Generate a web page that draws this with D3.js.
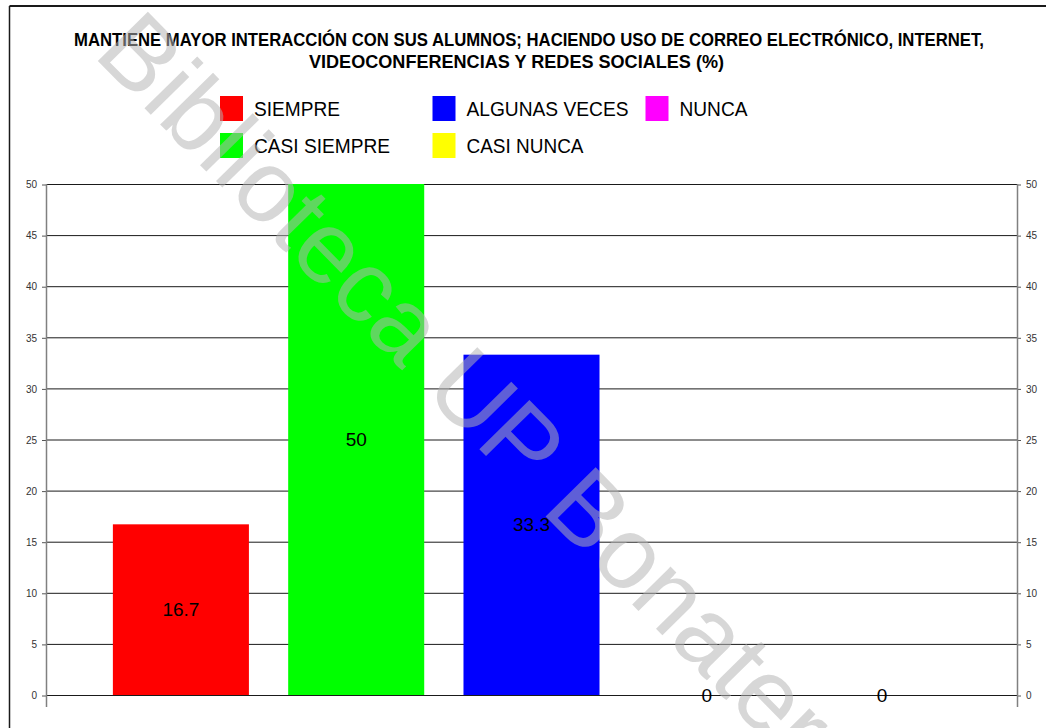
<!DOCTYPE html>
<html>
<head>
<meta charset="utf-8">
<script src="https://cdn.jsdelivr.net/npm/d3@7"></script>
<style>
  html, body { margin: 0; padding: 0; background: #fff; }
  svg { display: block; }
  text { font-family: "Liberation Sans", Arial, sans-serif; }
</style>
</head>
<body>
<div id="chart"></div>
<script>
// Response categories, their percentages and bar colours
const categories = ["SIEMPRE", "CASI SIEMPRE", "ALGUNAS VECES", "CASI NUNCA", "NUNCA"];
const values = [16.7, 50, 33.3, 0, 0];
const colors = ["#ff0000", "#00ff00", "#0000ff", "#ffff00", "#ff00ff"];
const yTicks = [0, 5, 10, 15, 20, 25, 30, 35, 40, 45, 50];
const titleLines = [
  "MANTIENE MAYOR INTERACCIÓN CON SUS ALUMNOS; HACIENDO USO DE CORREO ELECTRÓNICO, INTERNET,",
  "VIDEOCONFERENCIAS Y REDES SOCIALES (%)"
];
// Legend entries laid out in columns and rows
const legendItems = [
  { name: "SIEMPRE", color: "#ff0000", col: 0, row: 0, w: 86 },
  { name: "CASI SIEMPRE", color: "#00ff00", col: 0, row: 1, w: 136 },
  { name: "ALGUNAS VECES", color: "#0000ff", col: 1, row: 0, w: 162 },
  { name: "CASI NUNCA", color: "#ffff00", col: 1, row: 1, w: 117 },
  { name: "NUNCA", color: "#ff00ff", col: 2, row: 0, w: 68 }
];
const watermark = "Biblioteca UP Bonaterra";

const W = 1046, H = 728;
const plot = { left: 46, right: 1017, top: 184, bottom: 695 };

const svg = d3.select("#chart").append("svg")
  .attr("width", W).attr("height", H);

// Outer frame (top and left edges)
svg.append("line").attr("x1", 9.5).attr("x2", W).attr("y1", 6).attr("y2", 6)
  .attr("stroke", "#1a1a1a").attr("stroke-width", 2);
svg.append("line").attr("x1", 9.5).attr("x2", 9.5).attr("y1", 6).attr("y2", H)
  .attr("stroke", "#1a1a1a").attr("stroke-width", 1.5);

// Title
const titleX = [[74, 910], [309, 415]];
const titleY = [46, 68];
titleLines.forEach((t, i) => {
  svg.append("text")
    .attr("x", titleX[i][0]).attr("y", titleY[i])
    .attr("textLength", titleX[i][1]).attr("lengthAdjust", "spacingAndGlyphs")
    .attr("font-size", 18).attr("font-weight", "bold").attr("fill", "#000")
    .text(t);
});

// Legend
const legCols = [220, 432.5, 645.5];
const legRows = [96, 133];
const leg = svg.append("g");
legendItems.forEach(d => {
  leg.append("rect")
    .attr("x", legCols[d.col]).attr("y", legRows[d.row])
    .attr("width", 23).attr("height", 25).attr("fill", d.color);
  leg.append("text")
    .attr("x", legCols[d.col] + 34).attr("y", legRows[d.row] + 20)
    .attr("font-size", 20).attr("fill", "#000")
    .attr("textLength", d.w).attr("lengthAdjust", "spacingAndGlyphs")
    .text(d.name);
});

// Scales
const y = d3.scaleLinear().domain([0, 50]).range([plot.bottom, plot.top]);
const x = d3.scaleBand().domain(categories)
  .range([plot.left, plot.right]).paddingInner(0.224).paddingOuter(0.3815);

// Horizontal gridlines
svg.append("g").selectAll("line").data(yTicks.slice(1)).join("line")
  .attr("x1", plot.left).attr("x2", plot.right)
  .attr("y1", d => y(d) + 0.5).attr("y2", d => y(d) + 0.5)
  .attr("stroke", "#1a1a1a").attr("stroke-width", 1);

// Bars
svg.append("g").selectAll("rect").data(values).join("rect")
  .attr("x", (d, i) => x(categories[i]))
  .attr("width", x.bandwidth())
  .attr("y", d => y(d))
  .attr("height", d => y(0) - y(d))
  .attr("fill", (d, i) => colors[i]);

// Baseline
svg.append("line").attr("x1", plot.left).attr("x2", plot.right)
  .attr("y1", y(0) + 0.5).attr("y2", y(0) + 0.5)
  .attr("stroke", "#1a1a1a").attr("stroke-width", 1.2);

// Left and right value axes
function styleAxis(g) {
  g.select(".domain").remove();
  g.selectAll(".tick line").attr("stroke", "#555");
  g.selectAll(".tick text").attr("fill", "#333").attr("font-size", 10)
    .attr("font-family", "Liberation Sans, Arial, sans-serif");
}
svg.append("g").attr("transform", `translate(${plot.left},0.5)`)
  .call(d3.axisLeft(y).tickValues(yTicks).tickSize(4).tickPadding(5))
  .call(styleAxis);
svg.append("g").attr("transform", `translate(${plot.right},0.5)`)
  .call(d3.axisRight(y).tickValues(yTicks).tickSize(4).tickPadding(5))
  .call(styleAxis);
[plot.left, plot.right].forEach(px => {
  svg.append("line").attr("x1", px + 0.5).attr("x2", px + 0.5)
    .attr("y1", plot.top).attr("y2", plot.bottom + 12)
    .attr("stroke", "#808080").attr("stroke-width", 1.5);
});

// Value labels, centred in each bar
svg.append("g").selectAll("text").data(values).join("text")
  .attr("x", (d, i) => x(categories[i]) + x.bandwidth() / 2)
  .attr("y", d => (y(d) + y(0)) / 2)
  .attr("text-anchor", "middle").attr("dominant-baseline", "central")
  .attr("font-size", 19).attr("fill", "#000")
  .text(d => d3.format("~g")(d));

// Watermark
svg.append("text")
  .attr("transform", "translate(92,55) rotate(45.5)")
  .attr("font-size", 102)
  .attr("fill", "rgb(179,179,179)").attr("fill-opacity", 0.53)
  .text(watermark);
</script>
</body>
</html>
